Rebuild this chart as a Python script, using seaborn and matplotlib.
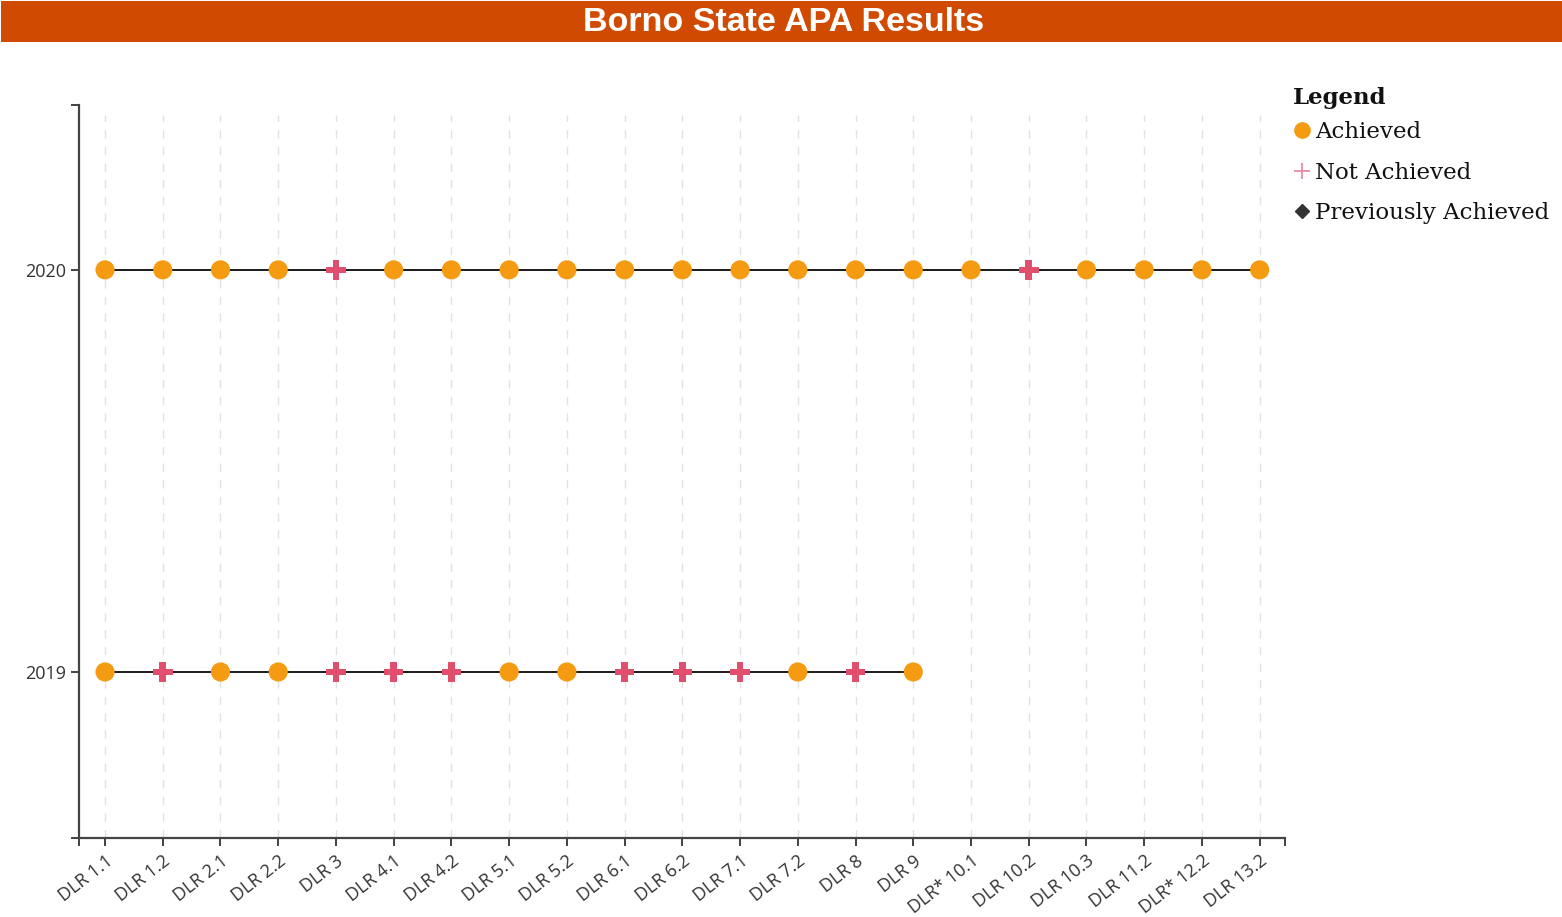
import matplotlib
matplotlib.use("Agg")
import matplotlib.pyplot as plt
from matplotlib.lines import Line2D
import seaborn as sns
import pandas as pd

# Disbursement-linked results assessed in each APA year
categories = ["DLR 1.1", "DLR 1.2", "DLR 2.1", "DLR 2.2", "DLR 3", "DLR 4.1", "DLR 4.2",
              "DLR 5.1", "DLR 5.2", "DLR 6.1", "DLR 6.2", "DLR 7.1", "DLR 7.2", "DLR 8",
              "DLR 9", "DLR* 10.1", "DLR 10.2", "DLR 10.3", "DLR 11.2", "DLR* 12.2", "DLR 13.2"]

status_2019 = ["A", "N", "A", "A", "N", "N", "N", "A", "A", "N", "N", "N", "A", "N", "A"]
status_2020 = ["A", "A", "A", "A", "N", "A", "A", "A", "A", "A", "A", "A", "A", "A", "A",
               "A", "N", "A", "A", "A", "A"]
years = [2019, 2020]
status_names = {"A": "Achieved", "N": "Not Achieved", "P": "Previously Achieved"}

rows = []
for year, statuses in zip(years, [status_2019, status_2020]):
    for i, s in enumerate(statuses):
        rows.append({"pos": i, "dlr": categories[i], "year": year, "status": status_names[s]})
df = pd.DataFrame(rows)

sns.set_style("white")
fig = plt.figure(figsize=(15.62, 9.17), dpi=100)
ax = fig.add_axes([0.0506, 0.0861, 0.7721, 0.7994])

orange = "#F59B12"
pink = "#E0506E"

# vertical dashed guides at every category
for i in range(len(categories)):
    ax.axvline(i, ymin=0.0, ymax=0.986, color="#E2E2E2", lw=1.0, ls=(0, (6, 6)), zorder=0)

sns.lineplot(data=df, x="pos", y="year", units="year", estimator=None,
             color="#1A1A1A", lw=1.4, ax=ax, zorder=2, legend=False)

ach = df[df.status == "Achieved"]
nach = df[df.status == "Not Achieved"]
sns.scatterplot(data=ach, x="pos", y="year", color=orange, s=190, marker="o",
                edgecolor="none", ax=ax, zorder=3, legend=False)
sns.scatterplot(data=nach, x="pos", y="year", color=pink, s=200, marker="P",
                edgecolor="none", ax=ax, zorder=3, legend=False)

ax.set_xlim(-0.45, len(categories) - 1 + 0.44)
ax.set_ylim(2018.587, 2020.41)
ax.set_xticks(range(len(categories)))
ax.set_xticklabels(categories, rotation=38, ha="right", rotation_mode="anchor",
                   fontsize=13, color="#333333", family="Open Sans")
ax.set_yticks(years)
ax.set_yticklabels([str(y) for y in years], fontsize=13, color="#333333", family="Open Sans")
ax.set_xlabel("")
ax.set_ylabel("")
ax.tick_params(axis="both", which="both", bottom=True, left=True, length=6, width=1.3,
               color="#333333", direction="out")
ax.tick_params(axis="x", pad=4)
ax.tick_params(axis="y", pad=3)

# small end ticks at the axis extremes
ax.set_xticks([-0.45, len(categories) - 1 + 0.44], minor=True)
ax.set_yticks([2018.587, 2020.41], minor=True)
ax.tick_params(which="minor", length=6, width=1.3, color="#333333")

for side in ["top", "right"]:
    ax.spines[side].set_visible(False)
for side in ["left", "bottom"]:
    ax.spines[side].set_color("#444444")
    ax.spines[side].set_linewidth(1.6)

# title banner
fig.patches.append(plt.Rectangle((0.0008, 0.954), 0.9992, 0.045, transform=fig.transFigure,
                                 facecolor="#D04A02", edgecolor="none", zorder=0))
fig.text(0.5015, 0.975, "Borno State APA Results", ha="center", va="center",
         color="white", fontsize=24.5, fontweight="bold", family="Liberation Sans")

# legend heading and entries
fig.text(0.8278, 0.893, "Legend", ha="left", va="center", color="#111111",
         fontsize=16.5, fontweight="bold", family="DejaVu Serif")
handles = [
    Line2D([], [], marker="o", ls="none", color=orange, markersize=11),
    Line2D([], [], marker="+", ls="none", color="#E88AA0", markersize=12, markeredgewidth=1.3),
    Line2D([], [], marker="D", ls="none", color="#333333", markersize=7),
]
leg = fig.legend(handles, ["Achieved", "Not Achieved", "Previously Achieved"],
                 loc="upper left", bbox_to_anchor=(0.8205, 0.8775), frameon=False,
                 handletextpad=0.05, handlelength=1.0, labelspacing=0.8,
                 borderaxespad=0.0, prop={"family": "DejaVu Serif", "size": 16.5})
for t in leg.get_texts():
    t.set_color("#111111")

fig.savefig("out.png", dpi=100)
